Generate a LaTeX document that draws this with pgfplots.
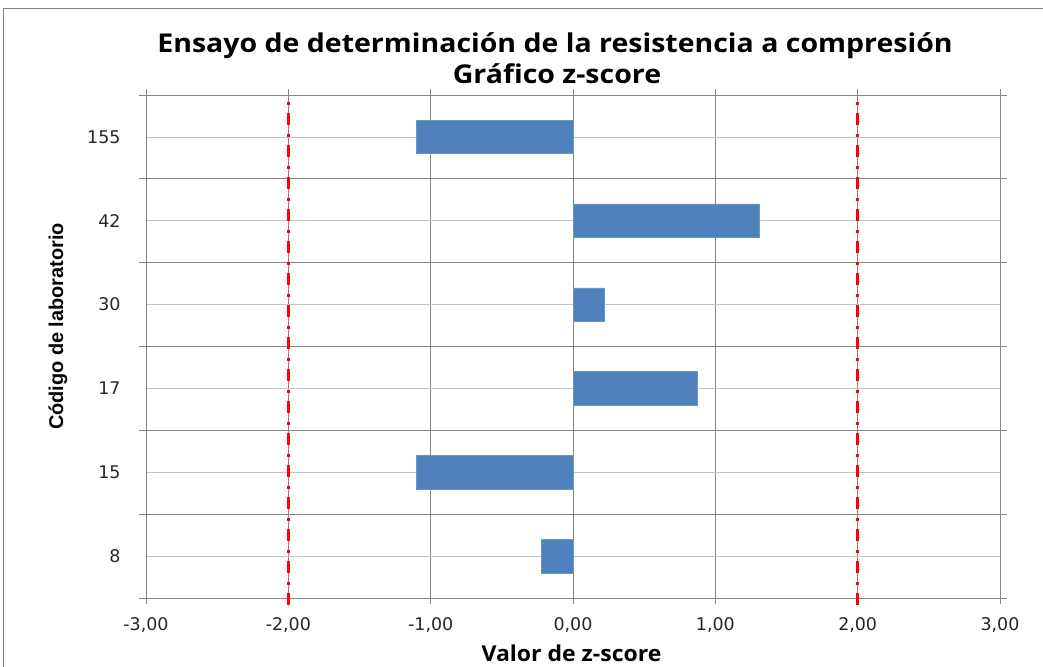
\documentclass[border=0pt]{standalone}
\usepackage{pgfplots}
\pgfplotsset{compat=1.18}
\usepackage{fontspec}
\setmainfont{Carlito}
\newfontfamily\tickfont{DejaVu Sans}
\newfontfamily\titlefont{Open Sans}
\newfontfamily\arialfont{Liberation Sans}
\definecolor{barblue}{RGB}{79,129,189}
\definecolor{gridgray}{RGB}{134,134,134}
\definecolor{lightgrid}{RGB}{195,195,195}
\begin{document}
\begin{tikzpicture}[x=1bp,y=1bp]
\useasboundingbox (0,0) rectangle (1043,667);
\fill[white] (0,0) rectangle (1043,667);
\draw[gray, line width=1.5bp] (3.5,-5) -- (3.5,658.5) -- (1050,658.5);
\begin{axis}[
  at={(146bp,69bp)}, anchor=south west,
  width=854bp, height=503bp, scale only axis,
  xmin=-3, xmax=3, ymin=0.5, ymax=6.5,
  axis line style={gridgray, line width=0.8bp},
  xtick={-3,...,3},
  xticklabels={{-3,00},{-2,00},{-1,00},{0,00},{1,00},{2,00},{3,00}},
  ytick={1,...,6},
  yticklabels={8,15,17,30,42,155},
  minor ytick={0.5,1.5,...,6.5},
  tick align=outside,
  major tick length=6bp, minor tick length=7bp,
  tick style={gridgray, line width=0.8bp},
  major y tick style={draw=none},
  xmajorgrids, ymajorgrids, yminorgrids,
  major x grid style={gridgray, line width=0.8bp},
  major y grid style={lightgrid, line width=0.8bp},
  minor y grid style={gridgray, line width=0.8bp},
  ticklabel style={font=\tickfont\fontsize{17.5}{17.5}\selectfont, text=black!85},
  xticklabel style={yshift=-10bp},
  yticklabel style={xshift=-16bp},
  clip=false,
]
\addplot[xbar, bar width=0.4, fill=barblue, draw=barblue!85!white]
  coordinates {(-0.22,1) (-1.10,2) (0.87,3) (0.22,4) (1.31,5) (-1.10,6)};
\addplot[red, line width=3.5bp, dash pattern=on 12bp off 8bp on 3bp off 9bp]
  coordinates {(-2,0.42) (-2,6.52)};
\addplot[red, line width=3.5bp, dash pattern=on 12bp off 8bp on 3bp off 9bp]
  coordinates {(2,0.42) (2,6.52)};
\end{axis}
\node[anchor=base, xscale=1.1, font=\titlefont\bfseries\fontsize{26}{30}\selectfont] at (555,614) {Ensayo de determinación de la resistencia a compresión};
\node[anchor=base, xscale=1.1, font=\titlefont\bfseries\fontsize{26}{30}\selectfont] at (557,583) {Gráfico z-score};
\node[anchor=base, rotate=90, font=\arialfont\bfseries\fontsize{20}{20}\selectfont] at (63,340.5) {Código de laboratorio};
\node[anchor=base, xscale=1.05, font=\titlefont\bfseries\fontsize{22}{22}\selectfont] at (571.5,5) {Valor de z-score};
\end{tikzpicture}
\end{document}
